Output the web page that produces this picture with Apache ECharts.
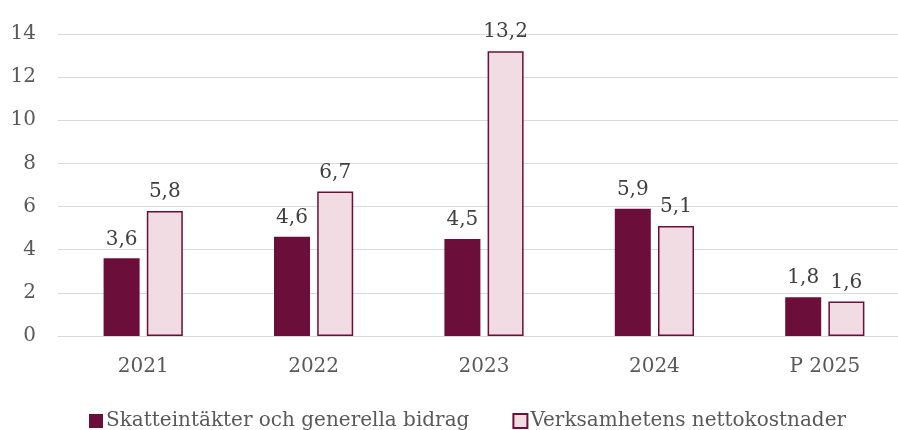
<!DOCTYPE html>
<html>
<head>
<meta charset="utf-8">
<script src="https://cdn.jsdelivr.net/npm/echarts@6/dist/echarts.min.js"></script>
<style>
  html,body{margin:0;padding:0;background:#fff;overflow:hidden;}
  /* plot area runs slightly past the right edge, as in the original */
  #chart{width:910px;height:430px;}
</style>
</head>
<body>
<div id="chart"></div>
<script>
const categories = ['2021', '2022', '2023', '2024', 'P 2025'];
const skatt = [3.6, 4.6, 4.5, 5.9, 1.8];
const verksamhet = [5.8, 6.7, 13.2, 5.1, 1.6];
const seriesNames = ['Skatteintäkter och generella bidrag', 'Verksamhetens nettokostnader'];

const FONT = '"DejaVu Serif", "Liberation Serif", serif';
const DARK = '#6b0f3a';
const LIGHT = '#f2dce3';
const fmt = v => String(v.toFixed(1)).replace('.', ',');

const chart = echarts.init(document.getElementById('chart'));
chart.setOption({
  animation: false,
  textStyle: {fontFamily: FONT},
  grid: {left: 58, top: 34, right: 0, bottom: 94},
  legend: {
    top: 406, left: 84,
    itemWidth: 14, itemHeight: 14, itemGap: 43,
    icon: 'rect',
    textStyle: {fontFamily: FONT, fontSize: 20, color: '#595959', padding: [0, 0, 0, -2]},
    data: seriesNames
  },
  xAxis: {
    type: 'category',
    data: categories,
    axisTick: {show: false},
    axisLine: {lineStyle: {color: '#d9d9d9', width: 1}},
    axisLabel: {fontFamily: FONT, fontSize: 20, color: '#595959', margin: 21}
  },
  yAxis: {
    type: 'value',
    min: 0, max: 14, interval: 2,
    axisLabel: {fontFamily: FONT, fontSize: 20, color: '#595959', margin: 22},
    splitLine: {lineStyle: {color: '#d9d9d9', width: 1}}
  },
  series: [
    {
      name: seriesNames[0], type: 'bar', data: skatt,
      barWidth: 36, barGap: '20%',
      itemStyle: {color: DARK},
      label: {show: true, position: 'top', distance: 9, fontFamily: FONT, fontSize: 20, color: '#404040', formatter: p => fmt(p.value)}
    },
    {
      name: seriesNames[1], type: 'bar', data: verksamhet,
      barWidth: 36,
      itemStyle: {color: LIGHT, borderColor: DARK, borderWidth: 1.5},
      label: {show: true, position: 'top', distance: 9, fontFamily: FONT, fontSize: 20, color: '#404040', formatter: p => fmt(p.value)}
    }
  ]
});
</script>
</body>
</html>
